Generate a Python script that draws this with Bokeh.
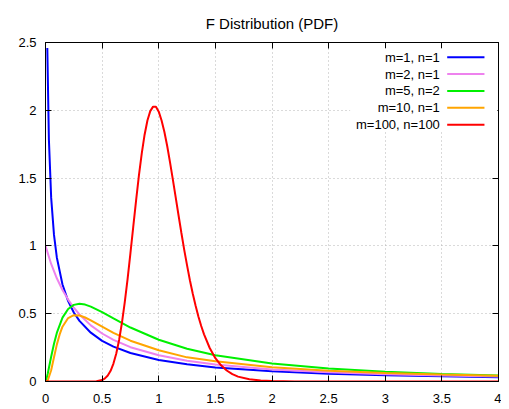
from bokeh.plotting import figure
from bokeh.models import Range1d, LinearAxis, FixedTicker, BoxAnnotation, Label, Arrow
from bokeh.embed import file_html
from bokeh.resources import INLINE

# ---------------- data ----------------
title_text = "F Distribution (PDF)"
x_ticks = [0, 0.5, 1, 1.5, 2, 2.5, 3, 3.5, 4]
x_tick_labels = ["0", "0.5", "1", "1.5", "2", "2.5", "3", "3.5", "4"]
y_ticks = [0, 0.5, 1, 1.5, 2, 2.5]
y_tick_labels = ["0", "0.5", "1", "1.5", "2", "2.5"]

series_names = ["m=1, n=1", "m=2, n=1", "m=5, n=2", "m=10, n=1", "m=100, n=100"]
series_colors = ["#0000ff", "#ee82ee", "#00f000", "#ffa500", "#ff0000"]

x_m1_n1 = [0.016, 0.03, 0.05, 0.075, 0.1, 0.15, 0.2, 0.25, 0.3, 0.4, 0.5, 0.6, 0.75,
           1.0, 1.25, 1.5, 2.0, 2.5, 3.0, 3.5, 4.0]
y_m1_n1 = [2.46, 1.784, 1.356, 1.081, 0.915, 0.715, 0.593, 0.509, 0.447, 0.360, 0.300,
           0.257, 0.210, 0.159, 0.127, 0.104, 0.075, 0.058, 0.046, 0.038, 0.032]

x_m2_n1 = [0, 0.05, 0.1, 0.15, 0.2, 0.25, 0.3, 0.4, 0.5, 0.6, 0.75, 1.0, 1.25, 1.5,
           2.0, 2.5, 3.0, 3.5, 4.0]
y_m2_n1 = [1.0, 0.867, 0.761, 0.675, 0.604, 0.544, 0.494, 0.414, 0.354, 0.307, 0.253,
           0.193, 0.153, 0.125, 0.089, 0.068, 0.054, 0.044, 0.037]

x_m5_n2 = [0, 0.01, 0.02, 0.05, 0.075, 0.1, 0.15, 0.2, 0.25, 0.3, 0.35, 0.4, 0.5, 0.6,
           0.75, 1.0, 1.25, 1.5, 2.0, 2.5, 3.0, 3.5, 4.0]
y_m5_n2 = [0, 0.023, 0.059, 0.183, 0.278, 0.358, 0.471, 0.535, 0.565, 0.573, 0.567,
           0.552, 0.511, 0.465, 0.398, 0.308, 0.242, 0.194, 0.132, 0.095, 0.072, 0.056,
           0.045]

x_m10_n1 = [0, 0.02, 0.05, 0.075, 0.1, 0.125, 0.15, 0.2, 0.25, 0.3, 0.35, 0.4, 0.5,
            0.6, 0.75, 1.0, 1.25, 1.5, 2.0, 2.5, 3.0, 3.5, 4.0]
y_m10_n1 = [0, 0.007, 0.083, 0.179, 0.272, 0.347, 0.404, 0.468, 0.489, 0.487, 0.472,
            0.451, 0.404, 0.359, 0.301, 0.230, 0.178, 0.149, 0.105, 0.079, 0.063,
            0.051, 0.042]

x_m100_n100 = [0, 0.3, 0.4, 0.45, 0.5, 0.525, 0.55, 0.575, 0.6, 0.625, 0.65, 0.675,
               0.7, 0.725, 0.75, 0.775, 0.8, 0.825, 0.85, 0.875, 0.9, 0.925, 0.95,
               0.975, 1.0, 1.025, 1.05, 1.075, 1.1, 1.125, 1.15, 1.175, 1.2, 1.225,
               1.25, 1.275, 1.3, 1.325, 1.35, 1.375, 1.4, 1.45, 1.5, 1.55, 1.6, 1.65,
               1.7, 1.8, 1.9, 2.0, 2.2, 2.5, 3.0, 4.0]
y_m100_n100 = [0, 0, 0.0002, 0.0019, 0.011, 0.023, 0.044, 0.079, 0.132, 0.206, 0.306,
               0.433, 0.585, 0.757, 0.947, 1.142, 1.336, 1.520, 1.683, 1.820, 1.925,
               1.994, 2.027, 2.026, 1.990, 1.925, 1.840, 1.735, 1.614, 1.487, 1.356,
               1.224, 1.095, 0.971, 0.856, 0.747, 0.649, 0.560, 0.480, 0.409, 0.348,
               0.247, 0.172, 0.119, 0.081, 0.054, 0.036, 0.016, 0.0066, 0.0028,
               0.0005, 0, 0, 0]

xs_all = [x_m1_n1, x_m2_n1, x_m5_n2, x_m10_n1, x_m100_n100]
ys_all = [y_m1_n1, y_m2_n1, y_m5_n2, y_m10_n1, y_m100_n100]

# ---------------- figure ----------------
FONT = "Liberation Sans"

p = figure(frame_width=453, frame_height=339,
           x_range=Range1d(0, 4), y_range=Range1d(0, 2.5),
           output_backend="svg", toolbar_location=None,
           min_border_left=45, min_border_right=3,
           min_border_top=42, min_border_bottom=24)
p.background_fill_color = "white"
p.border_fill_color = "white"
p.outline_line_color = "black"

p.title.text = title_text
p.title.align = "center"
p.title.text_font = FONT
p.title.text_font_size = "15px"
p.title.text_font_style = "normal"
p.title.text_color = "black"
p.title.standoff = 22

x_over = {t: l for t, l in zip(x_ticks, x_tick_labels)}
y_over = {t: l for t, l in zip(y_ticks, y_tick_labels)}


def style_axis(ax, ticks, overrides, standoff, size="13px"):
    ax.ticker = FixedTicker(ticks=ticks)
    ax.major_label_overrides = overrides
    ax.major_tick_in = 6
    ax.major_tick_out = 0
    ax.minor_tick_line_color = None
    ax.axis_line_color = "black"
    ax.major_tick_line_color = "black"
    ax.major_label_text_font = FONT
    ax.major_label_text_font_size = size
    ax.major_label_text_color = "black"
    ax.major_label_standoff = standoff


style_axis(p.xaxis[0], x_ticks, x_over, 12)
style_axis(p.yaxis[0], y_ticks, y_over, 9)

top_axis = LinearAxis()
style_axis(top_axis, x_ticks, {t: "" for t in x_ticks}, 0, "1px")
p.add_layout(top_axis, "above")
right_axis = LinearAxis()
style_axis(right_axis, y_ticks, {t: "" for t in y_ticks}, 0, "1px")
p.add_layout(right_axis, "right")

for g in (p.xgrid[0], p.ygrid[0]):
    g.grid_line_color = "#b4b4b4"
    g.grid_line_dash = "1 3"
    g.grid_line_width = 1
p.xgrid[0].ticker = FixedTicker(ticks=x_ticks)
p.ygrid[0].ticker = FixedTicker(ticks=y_ticks)

for xs, ys, c in zip(xs_all, ys_all, series_colors):
    p.line(xs, ys, line_color=c, line_width=2)

# ---------------- key (gnuplot style: text, then sample line) ----------------
p.add_layout(BoxAnnotation(left=2.69, right=3.99, bottom=1.845, top=2.455,
                           fill_color="white", fill_alpha=1.0, line_color=None))
row0, step = 2.392, 0.1245
for i, (name, c) in enumerate(zip(series_names, series_colors)):
    yy = row0 - i * step
    p.add_layout(Label(x=3.482, y=yy, text=name, text_align="right",
                       text_baseline="middle", text_font=FONT,
                       text_font_size="13px", text_color="black"))
    p.add_layout(Arrow(end=None, x_start=3.547, y_start=yy, x_end=3.876, y_end=yy,
                       line_color=c, line_width=2))

open("out.html", "w").write(file_html(p, INLINE))
